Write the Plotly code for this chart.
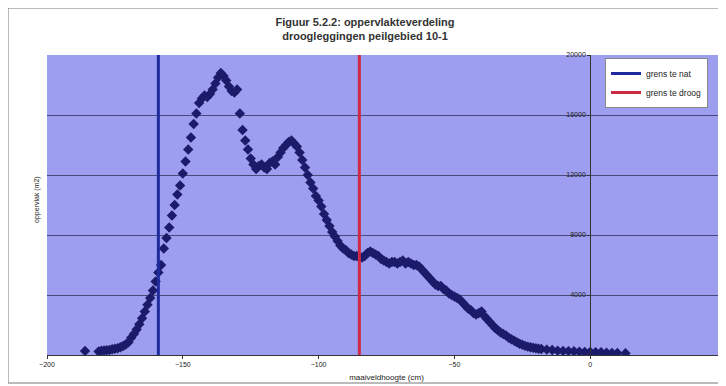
import plotly.graph_objects as go

# maaiveldhoogte (cm) and oppervlak (m2)
hoogte = [-186, -181, -180, -179, -178, -177, -176, -175, -174, -173, -172, -171, -170,
          -169, -168, -167, -166, -165, -164, -163, -162, -161, -160, -159, -158, -157,
          -156, -155, -154, -153, -152, -151, -150, -149, -148, -147, -146, -145, -144,
          -143, -142, -141, -140, -139, -138, -137, -136, -135, -134, -133, -132, -131,
          -130, -129, -128, -127, -126, -125, -124, -123, -122, -121, -120, -119, -118,
          -117, -116, -115, -114, -113, -112, -111, -110, -109, -108, -107, -106, -105,
          -104, -103, -102, -101, -100, -99, -98, -97, -96, -95, -94, -93, -92, -91,
          -90, -89, -88, -87, -86, -85, -84, -83, -82, -81, -80, -79, -78, -77, -76,
          -75, -74, -73, -72, -71, -70, -69, -68, -67, -66, -65, -64, -63, -62, -61,
          -60, -59, -58, -57, -56, -55, -54, -53, -52, -51, -50, -49, -48, -47, -46,
          -45, -44, -43, -42, -41, -40, -39, -38, -37, -36, -35, -34, -33, -32, -31,
          -30, -29, -28, -27, -26, -25, -24, -23, -22, -21, -20, -19, -18, -16, -14,
          -12, -10, -8, -6, -4, -2, 0, 2, 4, 6, 8, 10, 13]
oppervlak = [270, 230, 280, 300, 320, 330, 380, 420, 450, 520, 600, 700, 850,
             1150, 1400, 1700, 2050, 2450, 2900, 3350, 3800, 4300, 4900, 5500, 6000, 7100,
             7800, 8500, 9300, 10000, 10700, 11300, 12100, 12900, 13700, 14500, 15400, 16100, 16800,
             17100, 17300, 17200, 17400, 17700, 18100, 18500, 18800, 18600, 18300, 17900, 17600, 17500,
             17700, 16100, 15000, 14300, 13700, 13100, 12700, 12400, 12600, 12700, 12500, 12400, 12800,
             12900, 12700, 13200, 13500, 13800, 14000, 14200, 14300, 14100, 13900, 13500, 13000, 12500,
             12000, 11500, 11100, 10600, 10300, 9900, 9400, 9000, 8600, 8200, 7900, 7600, 7300, 7100,
             7000, 6800, 6700, 6600, 6600, 6500, 6500, 6600, 6800, 6900, 6800, 6700, 6600, 6400, 6300,
             6200, 6100, 6200, 6200, 6100, 6200, 6300, 6100, 6200, 6100, 6000, 6000, 5900, 5700, 5500,
             5300, 5100, 4900, 4700, 4600, 4600, 4400, 4300, 4100, 4000, 3900, 3800, 3700, 3500, 3300,
             3100, 3000, 2800, 2700, 2800, 2900, 2600, 2400, 2200, 2000, 1800, 1650, 1500, 1400, 1300,
             1150, 1050, 950, 850, 750, 680, 610, 560, 520, 480, 450, 420, 400, 360, 330,
             290, 270, 260, 250, 220, 200, 200, 190, 180, 150, 130, 130, 120]

grens_nat = -159
grens_droog = -85
y_range = [0, 20000]
x_ticks = [-200, -150, -100, -50, 0, 50]
y_ticks = [4000, 8000, 12000, 16000, 20000]

# page is offset by the 8px body margin
OFF = 8
W, H = 726 - OFF, 386 - OFF
L, R = 47 - OFF, 0
T = 55 - OFF
B = H - (355 - OFF)
pw, ph = W - L - R, H - T - B


def px(x):
    return (x - OFF - L) / pw


def py(y):
    return (H - B - (y - OFF)) / ph


fig = go.Figure()
fig.add_trace(go.Scatter(x=hoogte, y=oppervlak, mode="markers", showlegend=False,
                         marker=dict(symbol="diamond", size=8, color="#1b1b6a",
                                     line=dict(width=0))))
fig.add_trace(go.Scatter(x=[grens_nat, grens_nat], y=y_range, mode="lines", name="grens te nat",
                         line=dict(color="#1f2b9c", width=3)))
fig.add_trace(go.Scatter(x=[grens_droog, grens_droog], y=y_range, mode="lines", name="grens te droog",
                         line=dict(color="#cc2a45", width=3)))

zero_pos = (0 - (-200)) / 250

fig.update_layout(
    width=W, height=H,
    margin=dict(l=L, r=R, t=T, b=B),
    paper_bgcolor="white",
    plot_bgcolor="#9e9ef0",
    font=dict(family="Liberation Sans, Arial, sans-serif", color="#222", size=7),
    title=dict(text="<b>Figuur 5.2.2: oppervlakteverdeling<br>droogleggingen peilgebied 10-1</b>",
               x=(365 - OFF) / W, xanchor="center", y=1 - (26 - OFF) / H, yanchor="top",
               font=dict(size=11, color="#333")),
    xaxis=dict(range=[-200, 50], tickvals=x_ticks, showgrid=False, zeroline=False,
               showline=True, linecolor="#333", linewidth=1, ticks="outside", ticklen=3,
               tickcolor="#333", tickfont=dict(size=7), automargin=False,
               title=dict(text="maaiveldhoogte (cm)", font=dict(size=8), standoff=6)),
    yaxis=dict(range=y_range, tickvals=y_ticks, tickformat="d", showgrid=True,
               gridcolor="#4a4a7a", gridwidth=1, automargin=False,
               zeroline=False, showline=True, linecolor="#333", linewidth=1,
               anchor="free", position=zero_pos, ticks="outside", ticklen=3, tickcolor="#333",
               tickfont=dict(size=7)),
    legend=dict(x=px(605), y=py(58), xanchor="left", yanchor="top",
                bgcolor="white", bordercolor="#888", borderwidth=1,
                font=dict(size=8.5), tracegroupgap=0, itemwidth=30),
    annotations=[dict(text="oppervlak (m2)", textangle=-90, x=px(31), y=py(200),
                      xref="paper", yref="paper", showarrow=False, font=dict(size=7))],
    shapes=[dict(type="rect", xref="paper", yref="paper", x0=px(8), x1=px(760),
                 y0=py(383), y1=py(8), line=dict(color="#777", width=1))],
)

fig.write_html("out.html")
